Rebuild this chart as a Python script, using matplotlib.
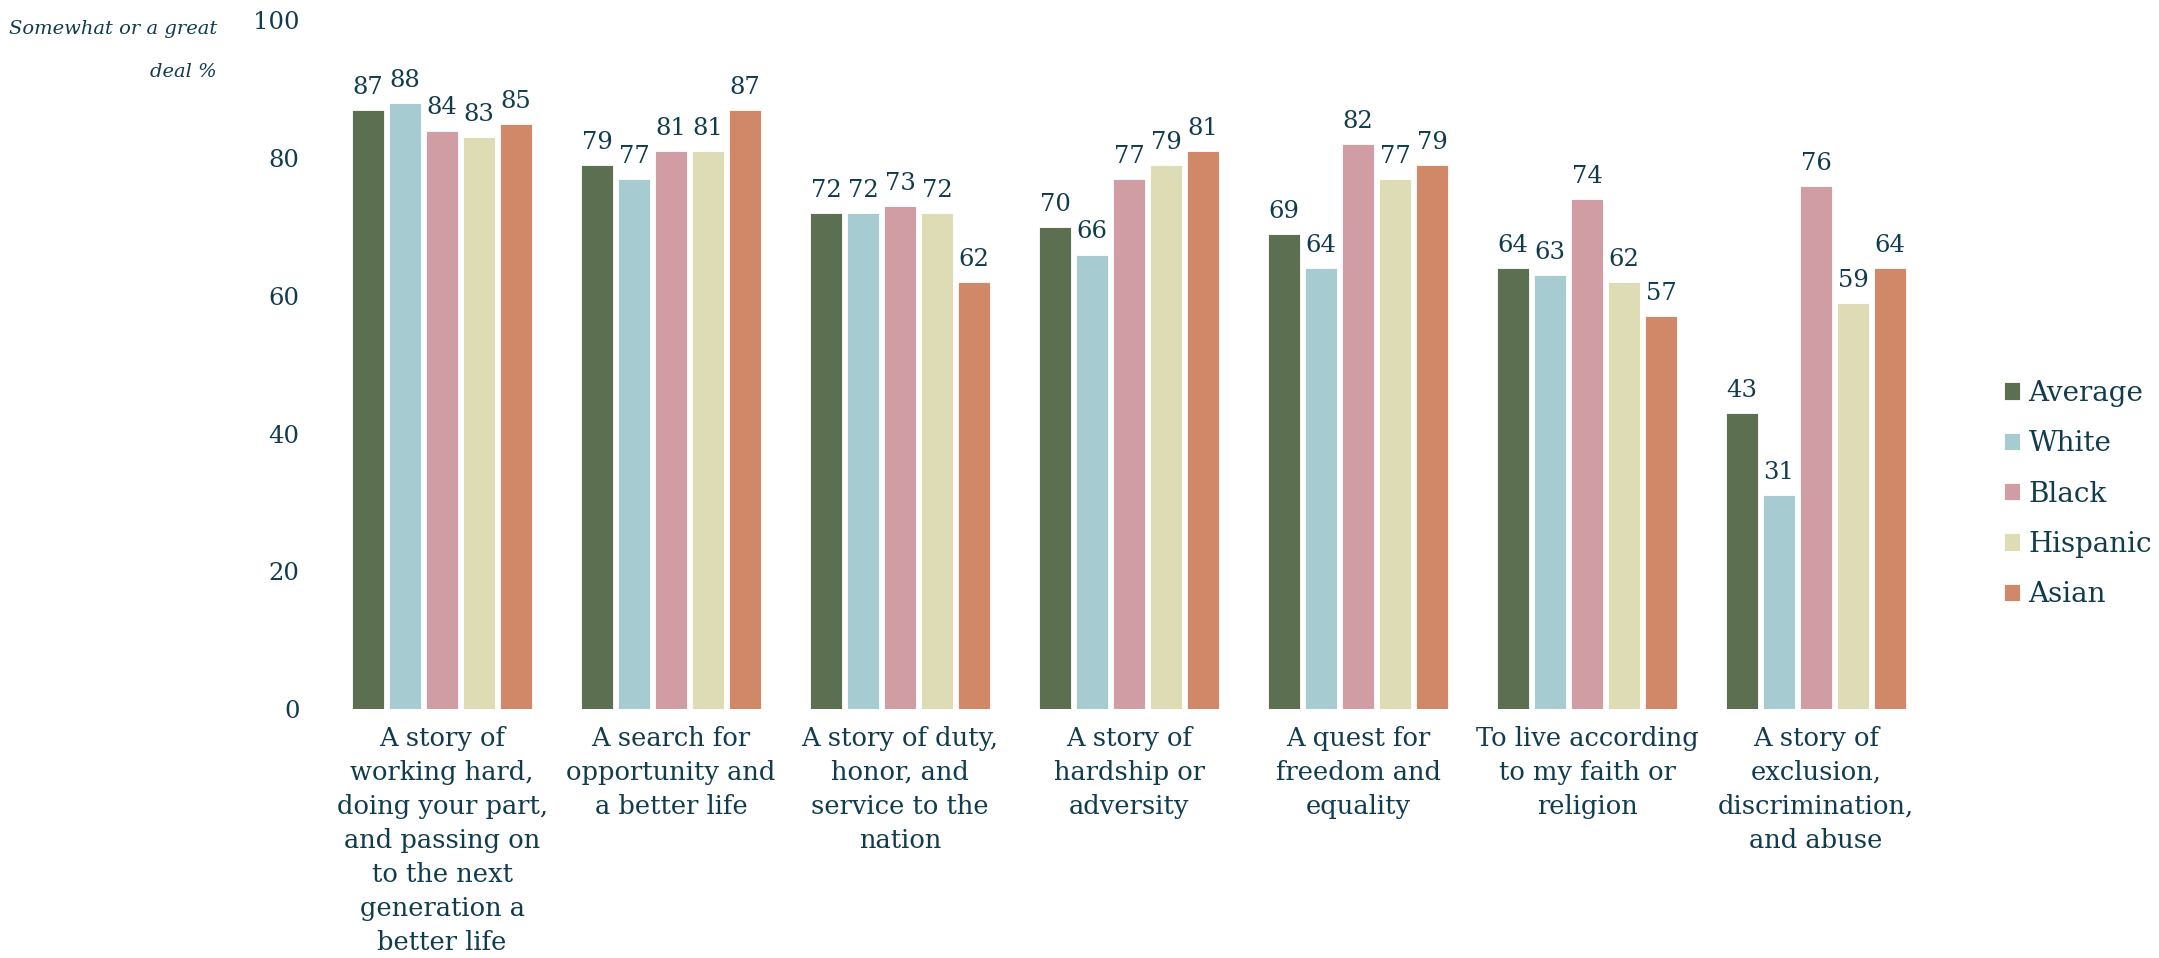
import numpy as np
from matplotlib import pyplot as plt

# Survey results: share answering "somewhat" or "a great deal" (%)
categories = ["A story of\nworking hard,\ndoing your part,\nand passing on\nto the next\ngeneration a\nbetter life",
              "A search for\nopportunity and\na better life",
              "A story of duty,\nhonor, and\nservice to the\nnation",
              "A story of\nhardship or\nadversity",
              "A quest for\nfreedom and\nequality",
              "To live according\nto my faith or\nreligion",
              "A story of\nexclusion,\ndiscrimination,\nand abuse"]
groups = ["Average", "White", "Black", "Hispanic", "Asian"]
average = [87, 79, 72, 70, 69, 64, 43]
white = [88, 77, 72, 66, 64, 63, 31]
black = [84, 81, 73, 77, 82, 74, 76]
hispanic = [83, 81, 72, 79, 77, 62, 59]
asian = [85, 87, 62, 81, 79, 57, 64]
yTicks = [0, 20, 40, 60, 80, 100]

colors = ['#5c7051', '#a6cbd0', '#d09da5', '#dedcb5', '#d18868']
textColor = '#113c4e'
serif = 'DejaVu Serif'

fig = plt.figure(figsize=(21.59, 9.58), dpi=100)
ax = fig.add_axes([0.1517, 0.26, 0.7425, 0.7187])

x = np.arange(len(categories))
barWidth = 0.14
barStep = 0.1616
series = [average, white, black, hispanic, asian]
for i in range(0, len(series)):
    offset = (i - 2) * barStep
    bars = ax.bar(x + offset, series[i], width=barWidth, color=colors[i],
                  edgecolor='#ffffff', linewidth=0.6, label=groups[i])
    for rect, val in zip(bars, series[i]):
        ax.annotate(str(val), (rect.get_x() + rect.get_width() / 2, val),
                    xytext=(0, 8), textcoords='offset points',
                    ha='center', va='bottom', fontsize=17.5,
                    family=serif, color=textColor)

ax.set_xlim(-0.5, len(categories) - 0.5)
ax.set_ylim(0, 100)
ax.set_yticks(yTicks)
ax.set_yticklabels([str(t) for t in yTicks], fontsize=17.5, family=serif, color=textColor)
ax.set_xticks(x)
ax.set_xticklabels(categories, fontsize=18.5, family=serif, color=textColor, linespacing=1.45)
ax.tick_params(axis='y', length=0, pad=20)
ax.tick_params(axis='x', length=0, pad=12)
for spine in ax.spines.values():
    spine.set_visible(False)

fig.text(217 / 2159, 1 - 20 / 958, "Somewhat or a great\ndeal %", ha='right', va='top',
         multialignment='right', fontsize=14, style='italic', family=serif,
         color=textColor, linespacing=2.8)

leg = ax.legend(loc='center left', bbox_to_anchor=(2004 / 2159, 1 - 494 / 958),
                bbox_transform=fig.transFigure, frameon=False, borderpad=0,
                borderaxespad=0, handlelength=0.58, handleheight=0.58,
                handletextpad=0.3, labelspacing=0.84,
                prop={'family': serif, 'size': 20})
for t in leg.get_texts():
    t.set_color(textColor)

plt.savefig("out.png", dpi=100)
